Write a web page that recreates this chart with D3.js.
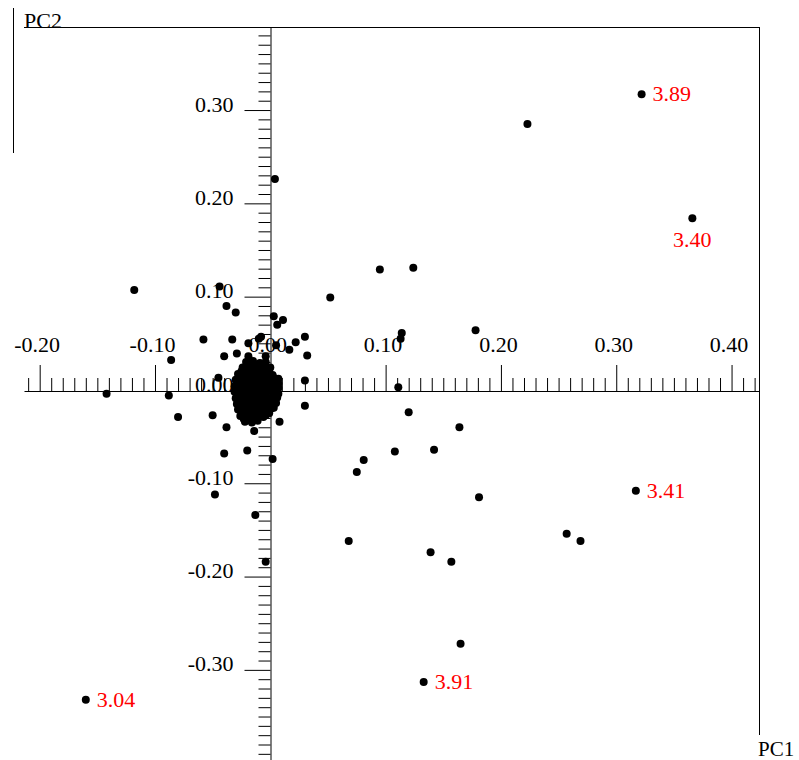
<!DOCTYPE html>
<html>
<head>
<meta charset="utf-8">
<script src="https://cdn.jsdelivr.net/npm/d3@7"></script>
<style>
  html, body { margin: 0; padding: 0; background: #fff; }
  svg { display: block; }
</style>
</head>
<body>
<svg id="chart" width="799" height="760"></svg>
<script>
// ---- Data (PC1, PC2 scores) ----
const outlierPoints = [
  [0.322, 0.317], [0.366, 0.184], [0.317, -0.108], [0.133, -0.313], [-0.160, -0.332]
];
const pointLabels = ["3.89", "3.40", "3.41", "3.91", "3.04"];

const scatterPoints = [
  [0.223, 0.285], [0.004, 0.226], [-0.118, 0.107], [0.095, 0.129], [0.124, 0.131],
  [0.052, 0.099], [0.178, 0.064], [0.114, 0.061], [0.113, 0.055], [0.111, 0.003],
  [0.120, -0.024], [0.164, -0.040], [0.142, -0.064], [0.108, -0.066], [0.081, -0.075],
  [0.075, -0.088], [0.181, -0.115], [0.068, -0.162], [0.139, -0.174], [0.157, -0.184],
  [0.257, -0.154], [0.269, -0.162], [0.165, -0.272], [0.030, -0.017], [0.030, 0.010],
  [0.030, 0.057], [0.032, 0.037], [0.022, 0.051], [0.0165, 0.043], [0.011, 0.075],
  [0.007, 0.012], [-0.044, 0.111], [-0.038, 0.090], [-0.030, 0.083], [0.003, 0.079],
  [0.006, 0.070], [-0.058, 0.054], [-0.033, 0.054], [-0.019, 0.050], [-0.010, 0.055],
  [-0.008, 0.057], [0.005, 0.048], [-0.040, 0.036], [-0.029, 0.039], [-0.019, 0.036],
  [-0.004, 0.036], [-0.005, 0.027], [-0.086, 0.032], [-0.045, 0.013], [-0.142, -0.004],
  [-0.088, -0.006], [-0.080, -0.029], [-0.050, -0.027], [0.004, -0.013], [0.008, -0.034],
  [-0.006, -0.029], [-0.038, -0.040], [-0.018, -0.032], [-0.014, -0.044], [-0.040, -0.068],
  [-0.020, -0.065], [0.002, -0.074], [-0.048, -0.112], [-0.013, -0.134], [-0.004, -0.184]
];

const clusterPoints = [
  [-0.021, 0.030], [-0.015, 0.031], [-0.009, 0.029], [-0.004, 0.030],
  [-0.018, 0.027], [-0.012, 0.027], [-0.006, 0.026],
  [-0.024, 0.024], [-0.018, 0.023], [-0.012, 0.025], [-0.006, 0.023], [0.000, 0.024],
  [-0.025, 0.020], [-0.019, 0.020], [-0.013, 0.021], [-0.007, 0.020], [-0.001, 0.020],
  [-0.028, 0.017], [-0.022, 0.018], [-0.016, 0.016], [-0.010, 0.017], [-0.004, 0.018], [0.002, 0.016],
  [-0.027, 0.014], [-0.021, 0.014], [-0.015, 0.013], [-0.009, 0.014], [-0.003, 0.014], [0.003, 0.013],
  [-0.030, 0.011], [-0.024, 0.010], [-0.018, 0.012], [-0.012, 0.011], [-0.006, 0.010], [0.000, 0.011], [0.005, 0.010],
  [-0.028, 0.007], [-0.022, 0.007], [-0.016, 0.008], [-0.010, 0.007], [-0.004, 0.007], [0.002, 0.007], [0.007, 0.007],
  [-0.031, 0.004], [-0.025, 0.005], [-0.019, 0.003], [-0.013, 0.004], [-0.007, 0.005], [-0.001, 0.003], [0.005, 0.004], [0.007, 0.002],
  [-0.029, 0.001], [-0.022, 0.001], [-0.016, 0.000], [-0.010, 0.001], [-0.004, 0.000], [0.002, 0.001],
  [-0.031, -0.002], [-0.025, -0.003], [-0.019, -0.001], [-0.013, -0.002], [-0.007, -0.003], [-0.001, -0.001], [0.004, -0.002], [0.007, -0.004],
  [-0.028, -0.006], [-0.022, -0.005], [-0.016, -0.006], [-0.010, -0.005], [-0.004, -0.006], [0.003, -0.006],
  [-0.030, -0.009], [-0.024, -0.008], [-0.018, -0.010], [-0.012, -0.009], [-0.006, -0.008], [0.000, -0.009], [0.006, -0.008],
  [-0.027, -0.012], [-0.021, -0.012], [-0.015, -0.013], [-0.009, -0.012], [-0.003, -0.012], [0.003, -0.011],
  [-0.029, -0.015], [-0.023, -0.016], [-0.017, -0.014], [-0.011, -0.015], [-0.005, -0.016], [0.001, -0.015], [0.005, -0.014],
  [-0.026, -0.018], [-0.020, -0.018], [-0.014, -0.019], [-0.008, -0.018], [-0.002, -0.018], [0.003, -0.019],
  [-0.028, -0.021], [-0.022, -0.022], [-0.016, -0.020], [-0.010, -0.021], [-0.004, -0.022], [0.001, -0.020],
  [-0.024, -0.025], [-0.018, -0.024], [-0.012, -0.025], [-0.006, -0.024], [-0.001, -0.025],
  [-0.026, -0.028], [-0.020, -0.027], [-0.014, -0.029], [-0.008, -0.028], [-0.004, -0.027],
  [-0.023, -0.031], [-0.017, -0.031], [-0.011, -0.030],
  [-0.022, -0.034], [-0.016, -0.035], [-0.011, -0.033]
];

const xMajorTicks = [-0.20, -0.10, 0.00, 0.10, 0.20, 0.30, 0.40];
const xTickLabels = ["-0.20", "-0.10", "0.00", "0.10", "0.20", "0.30", "0.40"];
const yMajorTicks = [-0.30, -0.20, -0.10, 0.00, 0.10, 0.20, 0.30];
const yTickLabels = ["-0.30", "-0.20", "-0.10", "0.00", "0.10", "0.20", "0.30"];
const xAxisTitle = "PC1";
const yAxisTitle = "PC2";

// ---- Layout ----
const FONT = "'Liberation Serif', 'Times New Roman', Times, serif";
const svg = d3.select("#chart");

const x = d3.scaleLinear().domain([-0.2136, 0.4238]).range([24, 759]);
const y = d3.scaleLinear().domain([-0.3966, 0.3890]).range([760, 27]);

const x0 = 270.5;   // where the PC2 axis sits
const y0 = 391;     // where the PC1 axis sits

const xMinorTicks = d3.range(-21, 43).map(v => +(v / 100).toFixed(2)).filter(v => xMajorTicks.indexOf(v) < 0);
const yMinorTicks = d3.range(-39, 39).map(v => +(v / 100).toFixed(2)).filter(v => yMajorTicks.indexOf(v) < 0);

// Frame lines (top and right) and the small left bar
const [xl, xr] = x.range();
const yt = y.range()[1];
svg.append("line").attr("x1", xl).attr("x2", xr).attr("y1", yt + 0.5).attr("y2", yt + 0.5)
  .attr("stroke", "#000").attr("stroke-width", 1);
svg.append("line").attr("x1", xr + 0.5).attr("x2", xr + 0.5).attr("y1", yt).attr("y2", 735)
  .attr("stroke", "#000").attr("stroke-width", 1);
svg.append("line").attr("x1", 13.5).attr("x2", 13.5).attr("y1", 8).attr("y2", 153)
  .attr("stroke", "#000").attr("stroke-width", 1);

// X axis (ticks upward, labels above)
const gxMinor = svg.append("g").attr("transform", `translate(0,${y0})`)
  .call(d3.axisTop(x).tickValues(xMinorTicks).tickSize(13).tickFormat(""));
gxMinor.select(".domain").remove();
const gx = svg.append("g").attr("transform", `translate(0,${y0})`)
  .call(d3.axisTop(x).tickValues(xMajorTicks).tickSize(26).tickSizeOuter(0).tickPadding(13)
    .tickFormat((d, i) => xTickLabels[i]));
gx.selectAll("text").attr("x", -3);

// Y axis (ticks to the left)
const gyMinor = svg.append("g").attr("transform", `translate(${x0},0)`)
  .call(d3.axisLeft(y).tickValues(yMinorTicks).tickSize(12).tickFormat(""));
gyMinor.select(".domain").remove();
const gy = svg.append("g").attr("transform", `translate(${x0},0)`)
  .call(d3.axisLeft(y).tickValues(yMajorTicks).tickSize(26).tickSizeOuter(0).tickPadding(11)
    .tickFormat((d, i) => yTickLabels[i]));
gy.selectAll("text").attr("dy", "0.05em");

svg.selectAll(".tick line, .domain").attr("stroke", "#000").attr("stroke-width", 1);
svg.selectAll(".tick text").attr("fill", "#000").style("font-family", FONT).style("font-size", "22px");

// Points
const allPoints = clusterPoints.concat(scatterPoints, outlierPoints);
svg.append("g").selectAll("circle").data(allPoints).join("circle")
  .attr("cx", d => x(d[0])).attr("cy", d => y(d[1])).attr("r", 4).attr("fill", "#000");

// Red labels
svg.append("g").selectAll("text").data(outlierPoints).join("text")
  .attr("x", (d, i) => i === 1 ? x(d[0]) : x(d[0]) + 11)
  .attr("y", (d, i) => i === 1 ? y(d[1]) + 29 : y(d[1]) + 7)
  .attr("text-anchor", (d, i) => i === 1 ? "middle" : "start")
  .attr("fill", "#ff0000")
  .style("font-family", FONT).style("font-size", "22px")
  .text((d, i) => pointLabels[i]);

// Axis titles
svg.append("text").attr("x", 24).attr("y", 28).text(yAxisTitle)
  .style("font-family", FONT).style("font-size", "22px").attr("fill", "#000");
svg.append("text").attr("x", 758).attr("y", 756).text(xAxisTitle)
  .style("font-family", FONT).style("font-size", "21px").attr("fill", "#000");
</script>
</body>
</html>
